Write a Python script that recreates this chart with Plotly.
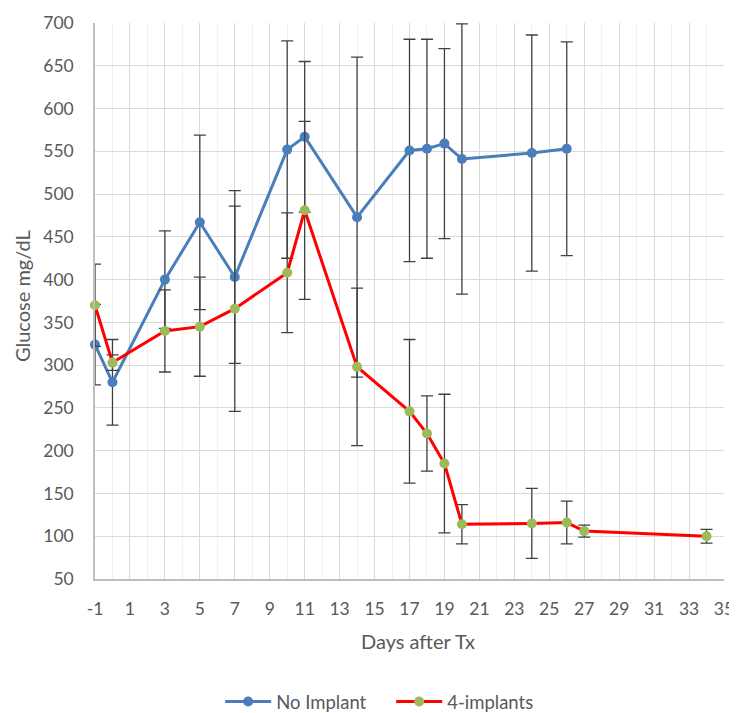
import plotly.graph_objects as go

days_no = [-1, 0, 3, 5, 7, 10, 11, 14, 17, 18, 19, 20, 24, 26]
glu_no = [324, 280, 400, 467, 403, 552, 567, 473, 551, 553, 559, 541, 548, 553]
err_no = [47, 50, 57, 102, 101, 127, 88, 187, 130, 128, 111, 158, 138, 125]

days_4 = [-1, 0, 3, 5, 7, 10, 11, 14, 17, 18, 19, 20, 24, 26, 27, 34]
glu_4 = [370, 303, 340, 345, 366, 408, 481, 298, 246, 220, 185, 114, 115, 116, 106, 100]
err_4 = [48, 9, 48, 58, 120, 70, 104, 92, 84, 44, 81, 23, 41, 25, 7, 8]

x_tick_vals = list(range(-1, 36, 2))
x_tick_text = ["-1", "1", "3", "5", "7", "9", "11", "13", "15", "17", "19",
               "21", "23", "25", "27", "29", "31", "33", "35"]

FONT = "Lato"
GREY = "#595959"

fig = go.Figure()
fig.add_trace(go.Scatter(
    x=days_no, y=glu_no, name="No Implant", mode="lines+markers",
    line=dict(color="#4A7EBB", width=3),
    marker=dict(color="#4A7EBB", size=10),
    error_y=dict(type="data", array=err_no, visible=True, color="#404040", thickness=1.3, width=6),
    cliponaxis=False,
))
fig.add_trace(go.Scatter(
    x=days_4, y=glu_4, name="4-implants", mode="lines+markers",
    line=dict(color="#FF0000", width=3),
    marker=dict(color="#9BBB59", size=10),
    error_y=dict(type="data", array=err_4, visible=True, color="#404040", thickness=1.3, width=6),
    cliponaxis=False,
))

# page body adds an 8px offset; margins compensate so the plot area sits where the reference has it
fig.update_layout(
    width=737, height=713,
    margin=dict(l=87, r=21, t=15, b=142),
    paper_bgcolor="white", plot_bgcolor="white",
    font=dict(family=FONT, size=17, color=GREY),
    showlegend=True,
    legend=dict(orientation="h", xref="paper", x=0.199, xanchor="left",
                yref="container", y=0.0266, yanchor="middle",
                font=dict(size=18.5, color=GREY), itemwidth=46,
                entrywidth=110, entrywidthmode="pixels"),
    annotations=[
        dict(text="Days after Tx", x=0.5135, y=-0.111, xref="paper", yref="paper",
             xanchor="center", yanchor="middle", showarrow=False, font=dict(size=20, color=GREY)),
        dict(text="Glucose mg/dL", x=-0.116, y=0.509, xref="paper", yref="paper",
             xanchor="center", yanchor="middle", textangle=-90, showarrow=False,
             font=dict(size=20, color=GREY)),
    ],
)
fig.update_xaxes(
    range=[-1, 35], tickmode="array", tickvals=x_tick_vals, ticktext=x_tick_text,
    showgrid=True, gridcolor="#D9D9D9", gridwidth=1,
    minor=dict(tick0=-1, dtick=1, showgrid=True, gridcolor="#F0F0F0", gridwidth=1),
    showline=True, linecolor="#BFBFBF", linewidth=1.5, zeroline=False, automargin=False,
    ticks="", ticklabelstandoff=13, tickfont=dict(size=17.5, color=GREY),
)
fig.update_yaxes(
    range=[50, 700], tick0=50, dtick=50, showgrid=True, gridcolor="#D9D9D9", gridwidth=1,
    showline=True, linecolor="#BFBFBF", linewidth=1.5, zeroline=False, automargin=False,
    ticks="", ticklabelstandoff=16, tickfont=dict(size=17.5, color=GREY),
)

fig.write_html("out.html")
